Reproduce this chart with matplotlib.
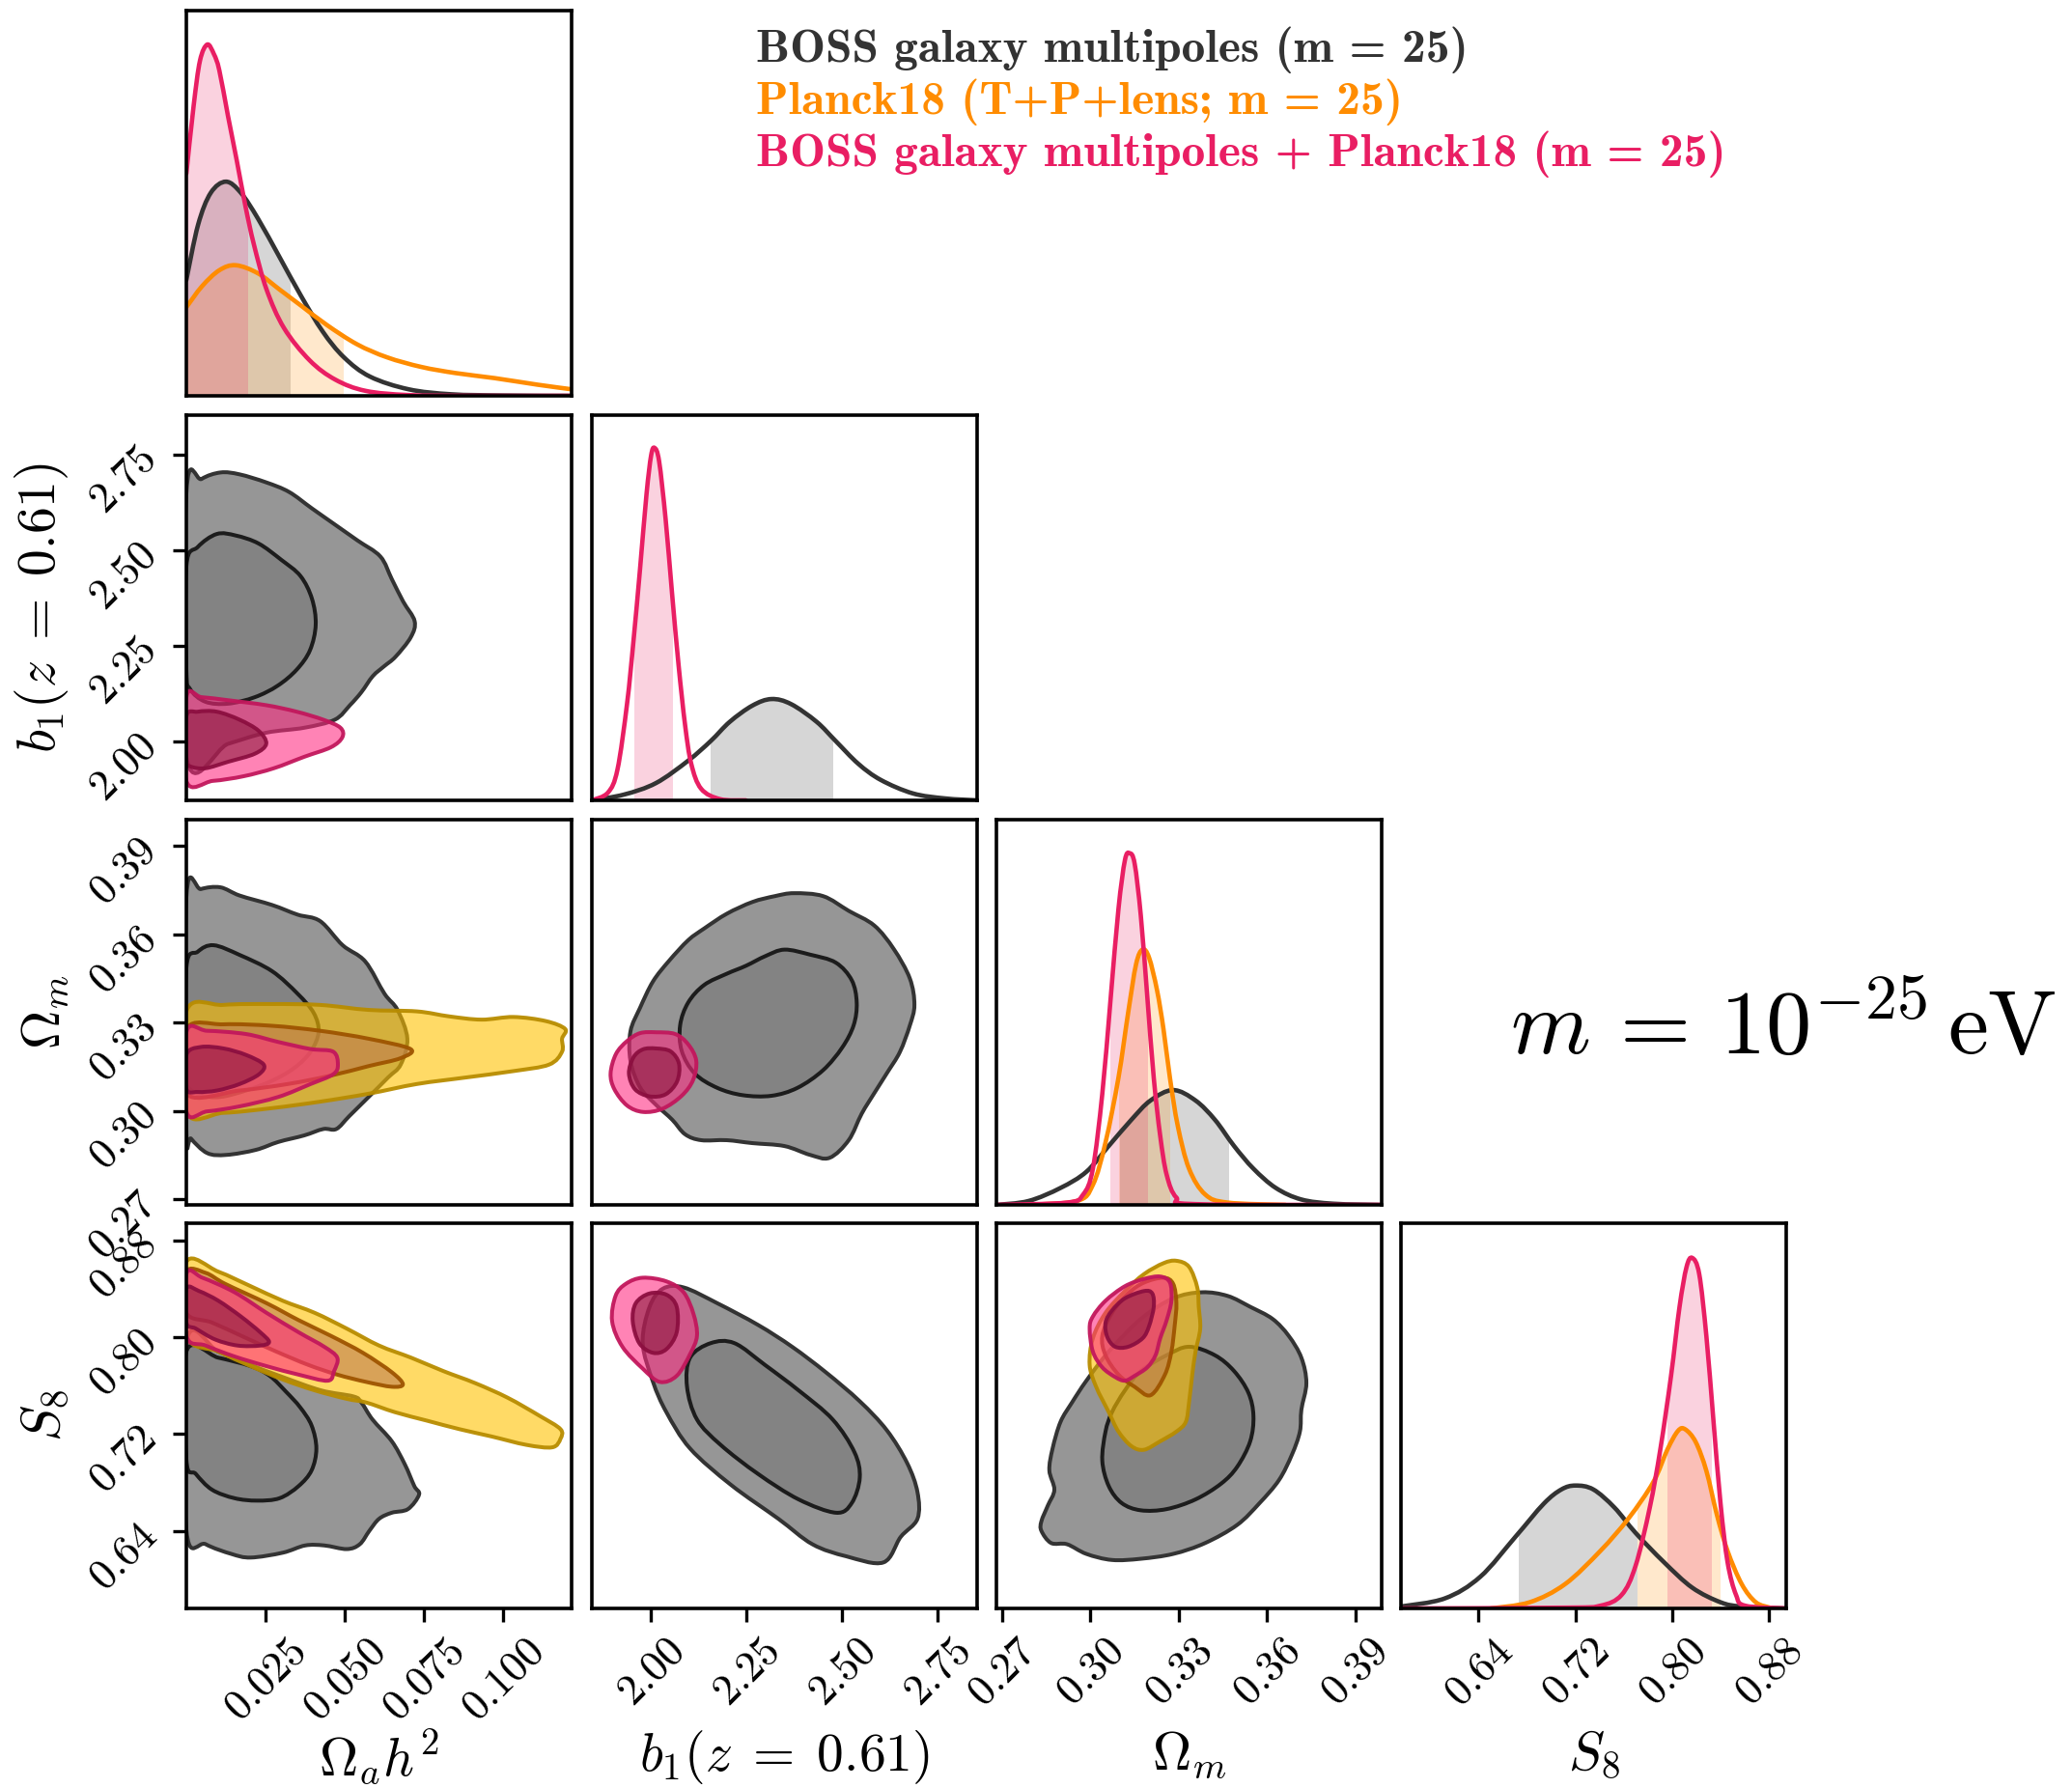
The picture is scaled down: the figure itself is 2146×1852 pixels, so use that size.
import numpy as np
import matplotlib
matplotlib.use("Agg")
import matplotlib.pyplot as plt
from matplotlib.path import Path
from matplotlib.patches import PathPatch, Rectangle

plt.rcParams['mathtext.fontset'] = 'cm'
plt.rcParams['font.family'] = ['DejaVu Serif']

# ---------------------------------------------------------------- data
PARAMS = ['Oa', 'b1', 'Om', 'S8']
AXLABELS = {'Oa': r'$\Omega_a h^2$', 'b1': r'$b_1(z\;=\;0.61)$',
            'Om': r'$\Omega_m$', 'S8': r'$S_8$'}
LIMS = {'Oa': (0.0, 0.1215), 'b1': (1.845, 2.853),
        'Om': (0.268, 0.399), 'S8': (0.576, 0.894)}
TICKS = {'Oa': [0.025, 0.050, 0.075, 0.100],
         'b1': [2.00, 2.25, 2.50, 2.75],
         'Om': [0.27, 0.30, 0.33, 0.36, 0.39],
         'S8': [0.64, 0.72, 0.80, 0.88]}
TICKLABELS = {'Oa': ['0.025', '0.050', '0.075', '0.100'],
              'b1': ['2.00', '2.25', '2.50', '2.75'],
              'Om': ['0.27', '0.30', '0.33', '0.36', '0.39'],
              'S8': ['0.64', '0.72', '0.80', '0.88']}

LEGEND_LABELS = ['BOSS galaxy multipoles (m = 25)',
                 'Planck18 (T+P+lens; m = 25)',
                 'BOSS galaxy multipoles + Planck18 (m = 25)']
MASS_LABEL = r'$m\,=\,10^{-25}\,\mathrm{eV}$'

# ---- 2D credible contours (outer = 95%, inner = 68%)
OA_B1_BOSS_95 = [(0, 2.648), (0.0048, 2.686), (0.0108, 2.703), (0.0168, 2.698), (0.0252, 2.677),
                 (0.0324, 2.652), (0.0396, 2.609), (0.0468, 2.567), (0.054, 2.525), (0.0612, 2.483),
                 (0.0648, 2.424), (0.0684, 2.365), (0.072, 2.314), (0.0708, 2.272), (0.066, 2.221),
                 (0.0624, 2.196), (0.0588, 2.170), (0.0552, 2.128), (0.0516, 2.094), (0.0468, 2.056),
                 (0.0372, 2.035), (0.0252, 2.022), (0.0132, 1.993), (0, 1.959)]
OA_B1_BOSS_68 = [(0, 2.458), (0.0036, 2.508), (0.0096, 2.542), (0.0156, 2.538), (0.0228, 2.517),
                 (0.030, 2.474), (0.036, 2.432), (0.0396, 2.373), (0.0408, 2.305), (0.039, 2.238),
                 (0.0348, 2.187), (0.0288, 2.145), (0.0216, 2.115), (0.0132, 2.098), (0.006, 2.103),
                 (0.0012, 2.136), (0, 2.187)]
OA_B1_COMB_95 = [(0, 2.115), (0.0048, 2.115), (0.0132, 2.107), (0.0252, 2.094), (0.0348, 2.077),
                 (0.0432, 2.056), (0.0486, 2.035), (0.0492, 2.010), (0.0456, 1.984), (0.0372, 1.959),
                 (0.0276, 1.929), (0.018, 1.908), (0.0084, 1.896), (0, 1.896)]
OA_B1_COMB_68 = [(0, 2.065), (0.0036, 2.077), (0.0096, 2.077), (0.0168, 2.056), (0.0228, 2.027),
                 (0.0252, 1.993), (0.0216, 1.967), (0.0132, 1.946), (0.006, 1.929), (0.0012, 1.934),
                 (0, 1.951)]

OA_OM_BOSS_95 = [(0, 0.3727), (0.0046, 0.3754), (0.0107, 0.3760), (0.0168, 0.3732), (0.0270, 0.3700),
                 (0.0351, 0.3667), (0.0422, 0.3645), (0.0493, 0.3563), (0.0564, 0.3508), (0.0625, 0.3398),
                 (0.0666, 0.3343), (0.0697, 0.3245), (0.0676, 0.3157), (0.0636, 0.3113), (0.0575, 0.3047),
                 (0.0514, 0.2982), (0.0473, 0.2938), (0.0432, 0.2938), (0.0371, 0.2916), (0.0290, 0.2894),
                 (0.0219, 0.2867), (0.0127, 0.2850), (0.0066, 0.2856), (0.0015, 0.2905), (0, 0.2938)]
OA_OM_BOSS_68 = [(0, 0.3486), (0.0036, 0.3541), (0.0086, 0.3563), (0.0168, 0.3530), (0.0270, 0.3475),
                 (0.0351, 0.3398), (0.0402, 0.3332), (0.0417, 0.3267), (0.0392, 0.3201), (0.0341, 0.3146),
                 (0.0270, 0.3102), (0.0188, 0.3069), (0.0107, 0.3047), (0.0046, 0.3053), (0.0005, 0.3080),
                 (0, 0.3113)]
OA_OM_PLANCK_95 = [(0, 0.3338), (0.0117, 0.3360), (0.0270, 0.3363), (0.0422, 0.3360), (0.0575, 0.3343),
                   (0.0727, 0.3338), (0.0829, 0.3321), (0.0931, 0.3310), (0.1032, 0.3319), (0.1134, 0.3305),
                   (0.1195, 0.3278), (0.1185, 0.3245), (0.1185, 0.3201), (0.1144, 0.3157), (0.1032, 0.3135),
                   (0.0880, 0.3113), (0.0727, 0.3091), (0.0575, 0.3058), (0.0422, 0.3031), (0.0270, 0.3009),
                   (0.0117, 0.2993), (0, 0.2998)]
OA_OM_PLANCK_68 = [(0, 0.3278), (0.0117, 0.3294), (0.0270, 0.3289), (0.0422, 0.3272), (0.0575, 0.3245),
                   (0.0707, 0.3210), (0.0676, 0.3179), (0.0575, 0.3152), (0.0453, 0.3119), (0.0320, 0.3091),
                   (0.0168, 0.3069), (0, 0.3058)]
OA_OM_COMB_95 = [(0, 0.3267), (0.0066, 0.3272), (0.0188, 0.3261), (0.0290, 0.3234), (0.0392, 0.3210),
                 (0.0463, 0.3201), (0.0478, 0.3157), (0.0463, 0.3124), (0.0392, 0.3091), (0.0290, 0.3047),
                 (0.0168, 0.3015), (0.0066, 0.2998), (0, 0.2998)]
OA_OM_COMB_68 = [(0, 0.3190), (0.0046, 0.3217), (0.0117, 0.3212), (0.0188, 0.3190), (0.0244, 0.3157),
                 (0.0229, 0.3124), (0.0168, 0.3091), (0.0097, 0.3069), (0.0036, 0.3064), (0, 0.3075)]

B1_OM_BOSS_95 = [(2.374, 0.374), (2.450, 0.373), (2.517, 0.368), (2.584, 0.363), (2.635, 0.355),
                 (2.677, 0.345), (2.689, 0.336), (2.677, 0.329), (2.651, 0.320), (2.618, 0.313),
                 (2.584, 0.306), (2.551, 0.299), (2.517, 0.290), (2.467, 0.284), (2.416, 0.285),
                 (2.349, 0.288), (2.265, 0.289), (2.198, 0.290), (2.131, 0.290), (2.089, 0.292),
                 (2.055, 0.297), (2.013, 0.302), (1.971, 0.308), (1.946, 0.317), (1.946, 0.327),
                 (1.971, 0.335), (2.005, 0.344), (2.047, 0.351), (2.097, 0.358), (2.139, 0.362),
                 (2.198, 0.367), (2.265, 0.371), (2.324, 0.373)]
B1_OM_BOSS_68 = [(2.349, 0.3548), (2.416, 0.3531), (2.483, 0.3504), (2.525, 0.3444), (2.538, 0.3368),
                 (2.530, 0.3291), (2.500, 0.3215), (2.450, 0.3138), (2.383, 0.3078), (2.315, 0.3051),
                 (2.240, 0.3053), (2.173, 0.3078), (2.114, 0.3127), (2.080, 0.3204), (2.076, 0.3291),
                 (2.097, 0.3368), (2.139, 0.3428), (2.198, 0.3466), (2.248, 0.3493), (2.299, 0.3526)]
B1_OM_COMB_95 = [(2.013, 0.3267), (2.063, 0.3261), (2.097, 0.3226), (2.118, 0.3171), (2.110, 0.3105),
                 (2.080, 0.3051), (2.030, 0.3007), (1.979, 0.2996), (1.937, 0.3018), (1.904, 0.3073),
                 (1.894, 0.3127), (1.908, 0.3193), (1.937, 0.3237), (1.971, 0.3264)]
B1_OM_COMB_68 = [(2.013, 0.3212), (2.051, 0.3202), (2.073, 0.3160), (2.068, 0.3100), (2.038, 0.3056),
                 (1.996, 0.3049), (1.958, 0.3073), (1.942, 0.3127), (1.954, 0.3182), (1.979, 0.3209)]

OA_S8_BOSS_95 = [(0, 0.796), (0.0101, 0.788), (0.0203, 0.777), (0.0304, 0.767), (0.0425, 0.756),
                 (0.0527, 0.751), (0.0552, 0.746), (0.0587, 0.732), (0.0648, 0.714), (0.0689, 0.695),
                 (0.0719, 0.677), (0.0734, 0.670), (0.0699, 0.658), (0.0648, 0.655), (0.0608, 0.650),
                 (0.0577, 0.640), (0.0547, 0.629), (0.0506, 0.625), (0.0435, 0.628), (0.0375, 0.628),
                 (0.0304, 0.622), (0.0203, 0.618), (0.0142, 0.621), (0.0061, 0.629), (0, 0.641)]
OA_S8_BOSS_68 = [(0, 0.788), (0.0101, 0.783), (0.0203, 0.776), (0.0263, 0.768), (0.0314, 0.755),
                 (0.0359, 0.742), (0.0395, 0.727), (0.0410, 0.708), (0.0395, 0.690), (0.0354, 0.677),
                 (0.0294, 0.667), (0.0223, 0.665), (0.0152, 0.667), (0.0081, 0.674), (0.0030, 0.687),
                 (0, 0.699)]
OA_S8_PLANCK_95 = [(0, 0.862), (0.0101, 0.854), (0.0203, 0.842), (0.0304, 0.830), (0.0405, 0.820),
                   (0.0506, 0.807), (0.0608, 0.793), (0.0709, 0.783), (0.0810, 0.772), (0.0911, 0.762),
                   (0.1013, 0.750), (0.1114, 0.735), (0.1180, 0.724), (0.1180, 0.716), (0.1154, 0.709),
                   (0.1073, 0.711), (0.0962, 0.718), (0.0861, 0.724), (0.0759, 0.731), (0.0658, 0.738),
                   (0.0567, 0.746), (0.0506, 0.749), (0.0405, 0.756), (0.0304, 0.765), (0.0203, 0.776),
                   (0.0101, 0.788), (0, 0.801)]
OA_S8_PLANCK_68 = [(0, 0.854), (0.0061, 0.853), (0.0122, 0.844), (0.0253, 0.828), (0.0354, 0.814),
                   (0.0456, 0.801), (0.0557, 0.787), (0.0648, 0.771), (0.0683, 0.761), (0.0648, 0.759),
                   (0.0567, 0.763), (0.0476, 0.769), (0.0385, 0.777), (0.0284, 0.788), (0.0182, 0.800),
                   (0.0081, 0.812), (0, 0.820)]
OA_S8_COMB_95 = [(0, 0.852), (0.0051, 0.849), (0.0152, 0.837), (0.0253, 0.820), (0.0354, 0.804),
                 (0.0435, 0.792), (0.0476, 0.783), (0.0466, 0.772), (0.0446, 0.764), (0.0354, 0.769),
                 (0.0253, 0.776), (0.0152, 0.784), (0.0061, 0.793), (0, 0.801)]
OA_S8_COMB_68 = [(0, 0.840), (0.0040, 0.838), (0.0101, 0.830), (0.0172, 0.817), (0.0233, 0.804),
                 (0.0261, 0.796), (0.0233, 0.793), (0.0162, 0.793), (0.0091, 0.798), (0.0030, 0.807),
                 (0, 0.812)]

B1_S8_BOSS_95 = [(2.085, 0.841), (2.173, 0.828), (2.280, 0.810), (2.369, 0.792), (2.457, 0.771),
                 (2.546, 0.747), (2.617, 0.723), (2.670, 0.696), (2.697, 0.672), (2.697, 0.650),
                 (2.653, 0.635), (2.608, 0.614), (2.511, 0.619), (2.422, 0.629), (2.333, 0.650),
                 (2.209, 0.678), (2.102, 0.708), (2.040, 0.738), (2.005, 0.763), (1.978, 0.795),
                 (1.996, 0.825), (2.031, 0.840)]
B1_S8_BOSS_68 = [(2.156, 0.795), (2.218, 0.795), (2.298, 0.777), (2.386, 0.756), (2.475, 0.732),
                 (2.532, 0.705), (2.546, 0.684), (2.525, 0.663), (2.484, 0.655), (2.386, 0.666),
                 (2.280, 0.687), (2.182, 0.711), (2.120, 0.732), (2.094, 0.759), (2.102, 0.783)]
B1_S8_COMB_95 = [(1.978, 0.849), (2.040, 0.846), (2.085, 0.837), (2.111, 0.819), (2.120, 0.801),
                 (2.102, 0.786), (2.067, 0.768), (2.023, 0.763), (1.978, 0.774), (1.925, 0.792),
                 (1.898, 0.813), (1.907, 0.834), (1.934, 0.844)]
B1_S8_COMB_68 = [(1.996, 0.836), (2.040, 0.835), (2.067, 0.825), (2.067, 0.804), (2.040, 0.790),
                 (2.005, 0.787), (1.969, 0.795), (1.952, 0.813), (1.960, 0.828)]

OM_S8_BOSS_95 = [(0.3379, 0.837), (0.3466, 0.834), (0.3543, 0.825), (0.3619, 0.815), (0.3674, 0.801),
                 (0.3717, 0.783), (0.3734, 0.762), (0.3717, 0.740), (0.3712, 0.722), (0.3685, 0.703),
                 (0.3641, 0.682), (0.3575, 0.663), (0.3499, 0.645), (0.3390, 0.630), (0.3281, 0.621),
                 (0.3171, 0.617), (0.3073, 0.616), (0.2986, 0.621), (0.2920, 0.629), (0.2866, 0.630),
                 (0.2833, 0.640), (0.2833, 0.648), (0.2855, 0.661), (0.2877, 0.674), (0.2860, 0.690),
                 (0.2871, 0.708), (0.2898, 0.730), (0.2937, 0.746), (0.2986, 0.764), (0.3062, 0.788),
                 (0.3171, 0.815), (0.3281, 0.832)]
OM_S8_BOSS_68 = [(0.3335, 0.792), (0.3423, 0.785), (0.3488, 0.772), (0.3537, 0.754), (0.3554, 0.735),
                 (0.3543, 0.714), (0.3499, 0.693), (0.3444, 0.679), (0.3357, 0.666), (0.3259, 0.658),
                 (0.3171, 0.657), (0.3106, 0.663), (0.3062, 0.677), (0.3040, 0.698), (0.3051, 0.722),
                 (0.3073, 0.738), (0.3117, 0.756), (0.3171, 0.772), (0.3259, 0.785)]
OM_S8_PLANCK_95 = [(0.3292, 0.863), (0.3335, 0.858), (0.3363, 0.841), (0.3368, 0.825), (0.3373, 0.807),
                   (0.3357, 0.788), (0.3346, 0.769), (0.3335, 0.746), (0.3324, 0.730), (0.3292, 0.722),
                   (0.3237, 0.714), (0.3182, 0.707), (0.3139, 0.710), (0.3095, 0.722), (0.3062, 0.738),
                   (0.3019, 0.759), (0.2997, 0.777), (0.3008, 0.799), (0.3051, 0.820), (0.3117, 0.838),
                   (0.3182, 0.852), (0.3248, 0.861)]
OM_S8_PLANCK_68 = [(0.3248, 0.849), (0.3281, 0.844), (0.3292, 0.828), (0.3286, 0.809), (0.3275, 0.788),
                   (0.3253, 0.769), (0.3204, 0.752), (0.3150, 0.759), (0.3095, 0.769), (0.3051, 0.785),
                   (0.3040, 0.801), (0.3073, 0.820), (0.3128, 0.836), (0.3182, 0.845)]
OM_S8_COMB_95 = [(0.3237, 0.850), (0.3270, 0.845), (0.3275, 0.830), (0.3259, 0.814), (0.3237, 0.799),
                 (0.3221, 0.785), (0.3193, 0.775), (0.3150, 0.768), (0.3117, 0.764), (0.3084, 0.767),
                 (0.3040, 0.775), (0.3008, 0.788), (0.2997, 0.807), (0.3008, 0.817), (0.3051, 0.830),
                 (0.3117, 0.842), (0.3182, 0.848)]
OM_S8_COMB_68 = [(0.3182, 0.838), (0.3210, 0.836), (0.3215, 0.825), (0.3199, 0.809), (0.3177, 0.799),
                 (0.3128, 0.792), (0.3084, 0.792), (0.3057, 0.800), (0.3051, 0.812), (0.3073, 0.822),
                 (0.3117, 0.832)]

# ---- 1D marginals (relative height) and 68% intervals
OA_BOSS_X = [0, 0.0037, 0.0077, 0.0125, 0.0172, 0.0226, 0.0294, 0.0362, 0.0430, 0.0497, 0.0579, 0.0701, 0.0836, 0.1000, 0.1215]
OA_BOSS_P = [0.301, 0.444, 0.527, 0.556, 0.527, 0.460, 0.360, 0.259, 0.167, 0.100, 0.050, 0.017, 0.004, 0.001, 0.0]
OA_PLANCK_X = [0, 0.0050, 0.0104, 0.0156, 0.0226, 0.0294, 0.0362, 0.0443, 0.0538, 0.0633, 0.0741, 0.0850, 0.0972, 0.1107, 0.1215]
OA_PLANCK_P = [0.230, 0.285, 0.326, 0.339, 0.318, 0.276, 0.234, 0.184, 0.134, 0.100, 0.075, 0.059, 0.046, 0.029, 0.017]
OA_COMB_X = [0, 0.0023, 0.0043, 0.0066, 0.0087, 0.0104, 0.0131, 0.0159, 0.0186, 0.0213, 0.0253, 0.0308, 0.0389, 0.0470, 0.0565, 0.0701, 0.0900, 0.1215]
OA_COMB_P = [0.577, 0.753, 0.870, 0.912, 0.887, 0.845, 0.728, 0.611, 0.494, 0.393, 0.276, 0.176, 0.092, 0.042, 0.013, 0.002, 0.0, 0.0]

B1_BOSS_X = [1.845, 1.929, 2.013, 2.097, 2.156, 2.206, 2.265, 2.315, 2.366, 2.433, 2.483, 2.542, 2.601, 2.685, 2.769, 2.853]
B1_BOSS_P = [0.0, 0.015, 0.045, 0.103, 0.154, 0.204, 0.246, 0.263, 0.25, 0.204, 0.154, 0.095, 0.053, 0.018, 0.005, 0.0]
B1_COMB_X = [1.845, 1.887, 1.912, 1.937, 1.954, 1.971, 1.988, 2.000, 2.009, 2.021, 2.038, 2.055, 2.072, 2.089, 2.105, 2.131, 2.181, 2.248]
B1_COMB_P = [0.0, 0.02, 0.08, 0.25, 0.415, 0.60, 0.795, 0.895, 0.915, 0.88, 0.73, 0.535, 0.35, 0.195, 0.095, 0.03, 0.003, 0.0]

OM_BOSS_X = [0.268, 0.2789, 0.2898, 0.2986, 0.3062, 0.3139, 0.3204, 0.3281, 0.3357, 0.3423, 0.3488, 0.3554, 0.3630, 0.3717, 0.3827, 0.399]
OM_BOSS_P = [0.0, 0.01, 0.044, 0.086, 0.153, 0.221, 0.271, 0.298, 0.271, 0.221, 0.153, 0.094, 0.044, 0.014, 0.003, 0.0]
OM_PLANCK_X = [0.2778, 0.2953, 0.3008, 0.3051, 0.3095, 0.3128, 0.3155, 0.3177, 0.3199, 0.3226, 0.3248, 0.3270, 0.3297, 0.3335, 0.3390, 0.3466, 0.3663]
OM_PLANCK_P = [0.0, 0.01, 0.052, 0.162, 0.33, 0.499, 0.625, 0.663, 0.642, 0.558, 0.457, 0.33, 0.204, 0.094, 0.027, 0.006, 0.0]
OM_COMB_X = [0.268, 0.2920, 0.2975, 0.3008, 0.3040, 0.3068, 0.3095, 0.3117, 0.3133, 0.3150, 0.3171, 0.3193, 0.3215, 0.3237, 0.3259, 0.3292, 0.3357, 0.399]
OM_COMB_P = [0.0, 0.006, 0.027, 0.094, 0.288, 0.532, 0.768, 0.895, 0.913, 0.886, 0.751, 0.541, 0.33, 0.179, 0.078, 0.019, 0.002, 0.0]

S8_BOSS_X = [0.576, 0.6122, 0.6414, 0.6705, 0.6939, 0.7085, 0.7201, 0.7347, 0.7522, 0.7697, 0.7931, 0.8164, 0.8398, 0.8573, 0.894]
S8_BOSS_P = [0.005, 0.026, 0.082, 0.186, 0.272, 0.309, 0.319, 0.309, 0.262, 0.196, 0.12, 0.054, 0.016, 0.005, 0.0]
S8_PLANCK_X = [0.6501, 0.6822, 0.7114, 0.7405, 0.7639, 0.7843, 0.7960, 0.8047, 0.8106, 0.8193, 0.8281, 0.8368, 0.8456, 0.8573, 0.8689, 0.8806]
S8_PLANCK_P = [0.0, 0.016, 0.063, 0.149, 0.234, 0.328, 0.413, 0.461, 0.465, 0.432, 0.357, 0.243, 0.149, 0.063, 0.016, 0.002]
S8_COMB_X = [0.576, 0.7114, 0.7405, 0.7581, 0.7697, 0.7814, 0.7901, 0.7989, 0.8059, 0.8117, 0.8164, 0.8222, 0.8281, 0.8339, 0.8398, 0.8456, 0.8526, 0.8602, 0.894]
S8_COMB_P = [0.0, 0.002, 0.007, 0.035, 0.111, 0.262, 0.413, 0.603, 0.782, 0.886, 0.91, 0.868, 0.707, 0.489, 0.272, 0.12, 0.035, 0.007, 0.0]

INTERVALS = {
    ('Oa', 'boss'): (0.0, 0.0329), ('Oa', 'planck'): (0.0, 0.0497), ('Oa', 'comb'): (0.0, 0.0196),
    ('b1', 'boss'): (2.156, 2.477), ('b1', 'comb'): (1.957, 2.058),
    ('Om', 'boss'): (0.3100, 0.3472), ('Om', 'planck'): (0.3098, 0.3270), ('Om', 'comb'): (0.3069, 0.3195),
    ('S8', 'boss'): (0.6734, 0.7709), ('S8', 'planck'): (0.7709, 0.8398), ('S8', 'comb'): (0.796, 0.8327),
}

# ---------------------------------------------------------------- styles / layout
LINE_COL = {'boss': '#333333', 'planck': '#FF8C00', 'comb': '#E91E63'}
C2D = {
    'boss': dict(fc95='#969696', ec95='#333333', fc68='#838383', ec68='#1c1c1c'),
    'planck': dict(fc95=(1.0, 0.76, 0.0, 0.6), ec95=(0.72, 0.55, 0.0, 0.95),
                   fc68=(0.75, 0.49, 0.31, 0.6), ec68=(0.62, 0.33, 0.0, 0.95)),
    'comb': dict(fc95=(1.0, 0.16, 0.5, 0.58), ec95=(0.76, 0.09, 0.36, 0.95),
                 fc68=(0.55, 0.10, 0.25, 0.6), ec68=(0.55, 0.06, 0.25, 0.95)),
}

W, H = 2146, 1852
PANEL_LEFT_PX = [193, 613, 1032, 1451]
PANEL_TOP_PX = [11, 430, 849, 1267]
PANEL_PX = 399


def smooth_path(pts, closed):
    P = np.asarray(pts, float)
    n = len(P)
    verts = [P[0]]
    codes = [Path.MOVETO]
    segs = n if closed else n - 1
    for i in range(segs):
        p1 = P[i]
        p2 = P[(i + 1) % n]
        p0 = P[(i - 1) % n] if (closed or i > 0) else P[i]
        p3 = P[(i + 2) % n] if (closed or i + 2 < n) else P[i + 1]
        c1 = p1 + (p2 - p0) / 6.0
        c2 = p2 - (p3 - p1) / 6.0
        verts += [c1, c2, p2]
        codes += [Path.CURVE4] * 3
    if closed:
        verts.append(P[0])
        codes.append(Path.CLOSEPOLY)
    return Path(np.array(verts), codes)


def draw_contours(ax, c95, c68, key):
    st = C2D[key]
    for pts, fc, ec in ((c95, st['fc95'], st['ec95']), (c68, st['fc68'], st['ec68'])):
        ax.add_patch(PathPatch(smooth_path(pts, True), facecolor=fc, edgecolor=ec,
                               lw=2.9, joinstyle='round'))


def draw_1d(ax, xs, ps, param, key):
    color = LINE_COL[key]
    lo, hi = INTERVALS[(param, key)]
    path = smooth_path(list(zip(xs, ps)), False)
    verts = np.vstack([path.vertices, [[xs[-1], 0], [xs[0], 0], [xs[0], 0]]])
    codes = list(path.codes) + [Path.LINETO, Path.LINETO, Path.CLOSEPOLY]
    shade = PathPatch(Path(verts, codes), facecolor=color, alpha=0.2, edgecolor='none', lw=0)
    ax.add_patch(shade)
    shade.set_clip_path(Rectangle((lo, 0), hi - lo, 1.0, transform=ax.transData))
    return path


fig = plt.figure(figsize=(W / 100, H / 100), dpi=100)

PANELS_2D = {
    (1, 0): [(OA_B1_BOSS_95, OA_B1_BOSS_68, 'boss'), (OA_B1_COMB_95, OA_B1_COMB_68, 'comb')],
    (2, 0): [(OA_OM_BOSS_95, OA_OM_BOSS_68, 'boss'), (OA_OM_PLANCK_95, OA_OM_PLANCK_68, 'planck'),
             (OA_OM_COMB_95, OA_OM_COMB_68, 'comb')],
    (2, 1): [(B1_OM_BOSS_95, B1_OM_BOSS_68, 'boss'), (B1_OM_COMB_95, B1_OM_COMB_68, 'comb')],
    (3, 0): [(OA_S8_BOSS_95, OA_S8_BOSS_68, 'boss'), (OA_S8_PLANCK_95, OA_S8_PLANCK_68, 'planck'),
             (OA_S8_COMB_95, OA_S8_COMB_68, 'comb')],
    (3, 1): [(B1_S8_BOSS_95, B1_S8_BOSS_68, 'boss'), (B1_S8_COMB_95, B1_S8_COMB_68, 'comb')],
    (3, 2): [(OM_S8_BOSS_95, OM_S8_BOSS_68, 'boss'), (OM_S8_PLANCK_95, OM_S8_PLANCK_68, 'planck'),
             (OM_S8_COMB_95, OM_S8_COMB_68, 'comb')],
}
PANELS_1D = {
    'Oa': [(OA_BOSS_X, OA_BOSS_P, 'boss'), (OA_PLANCK_X, OA_PLANCK_P, 'planck'), (OA_COMB_X, OA_COMB_P, 'comb')],
    'b1': [(B1_BOSS_X, B1_BOSS_P, 'boss'), (B1_COMB_X, B1_COMB_P, 'comb')],
    'Om': [(OM_BOSS_X, OM_BOSS_P, 'boss'), (OM_PLANCK_X, OM_PLANCK_P, 'planck'), (OM_COMB_X, OM_COMB_P, 'comb')],
    'S8': [(S8_BOSS_X, S8_BOSS_P, 'boss'), (S8_PLANCK_X, S8_PLANCK_P, 'planck'), (S8_COMB_X, S8_COMB_P, 'comb')],
}

TICK_FS = 32
LABEL_FS = 40

for i in range(4):
    for j in range(i + 1):
        left = PANEL_LEFT_PX[j] / W
        bottom = 1 - (PANEL_TOP_PX[i] + PANEL_PX) / H
        ax = fig.add_axes([left, bottom, PANEL_PX / W, PANEL_PX / H])
        px, py = PARAMS[j], PARAMS[i]
        ax.set_xlim(*LIMS[px])
        if i == j:
            ax.set_ylim(0, 1)
            paths = []
            for xs, ps, key in PANELS_1D[px]:
                paths.append((draw_1d(ax, xs, ps, px, key), key))
            for path, key in paths:
                ax.add_patch(PathPatch(path, fill=False, edgecolor=LINE_COL[key], lw=3.3,
                                       joinstyle='round', capstyle='round'))
        else:
            ax.set_ylim(*LIMS[py])
            for c95, c68, key in PANELS_2D[(i, j)]:
                draw_contours(ax, c95, c68, key)
        for sp in ax.spines.values():
            sp.set_linewidth(2.6)
            sp.set_zorder(10)
        ax.tick_params(direction='out', length=10, width=2.4, labelsize=TICK_FS, pad=6)
        if i == 3:
            ax.set_xticks(TICKS[px])
            ax.set_xticklabels(['$' + t + '$' for t in TICKLABELS[px]], rotation=45)
            ax.set_xlabel(AXLABELS[px], fontsize=LABEL_FS)
            ax.xaxis.set_label_coords(0.5, -0.31)
        else:
            ax.set_xticks([])
        if j == 0 and i > 0:
            ax.set_yticks(TICKS[py])
            ax.set_yticklabels(['$' + t + '$' for t in TICKLABELS[py]], rotation=45)
            ax.set_ylabel(AXLABELS[py], fontsize=LABEL_FS)
            ax.yaxis.set_label_coords(-0.30, 0.5)
        else:
            ax.set_yticks([])

LEG_COLS = [LINE_COL['boss'], LINE_COL['planck'], LINE_COL['comb']]
LEG_BASELINE_PX = [64, 118, 172]
for lab, col, yb in zip(LEGEND_LABELS, LEG_COLS, LEG_BASELINE_PX):
    fig.text(783 / W, 1 - yb / H, lab, color=col, fontsize=35.5, fontfamily='cmb10',
             ha='left', va='baseline')

fig.text(1564 / W, 1 - 1092 / H, MASS_LABEL, fontsize=68, ha='left', va='baseline', color='black')

fig.savefig('out.png', dpi=100)
